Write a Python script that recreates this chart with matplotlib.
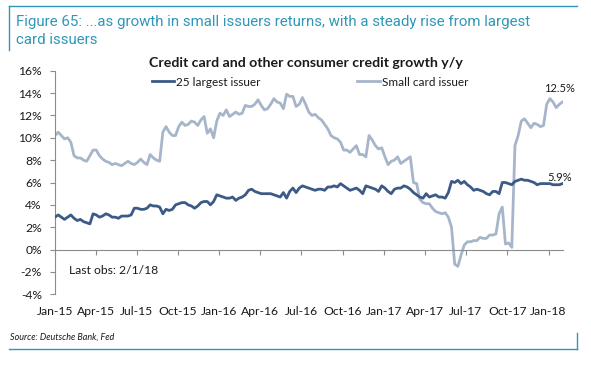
import numpy as np
import pandas as pd
import matplotlib
matplotlib.use('Agg')
import matplotlib.pyplot as plt
import matplotlib.transforms as mtransforms
from matplotlib.lines import Line2D

# weekly y/y growth, % (2015-01-01 .. 2018-02-01)
large_issuer = [
    2.9, 3.1, 2.9, 2.7, 2.9, 3.1, 2.8, 2.6, 2.7, 2.5, 2.4, 2.3, 3.2,
    3.1, 2.9, 3.0, 3.2, 3.1, 2.9, 2.9, 2.8, 3.0, 3.0, 3.0, 3.1, 3.7,
    3.7, 3.6, 3.6, 3.7, 4.0, 3.9, 3.9, 3.8, 3.2, 3.6, 3.5, 3.6, 4.0,
    4.1, 4.2, 4.2, 4.0, 3.9, 3.7, 3.9, 4.2, 4.3, 4.3, 4.0, 4.3, 4.9,
    4.8, 4.7, 4.6, 4.6, 4.7, 4.4, 4.6, 4.7, 4.9, 5.3, 5.4, 5.2, 5.1,
    5.0, 5.0, 5.0, 5.0, 4.9, 4.8, 4.7, 5.1, 4.6, 5.2, 5.5, 5.1, 5.5,
    5.7, 5.6, 5.5, 5.4, 5.3, 5.4, 5.4, 5.3, 5.6, 5.6, 5.7, 5.6, 5.9,
    5.7, 5.5, 5.3, 5.4, 5.5, 5.3, 5.0, 5.7, 5.6, 5.5, 5.4, 5.2, 5.7,
    5.5, 5.2, 5.0, 5.4, 5.5, 5.5, 5.7, 5.6, 5.4, 5.1, 4.9, 4.7, 4.6,
    5.0, 4.7, 4.8, 4.9, 4.7, 4.7, 4.6, 5.1, 6.1, 6.0, 6.2, 5.9, 6.1,
    5.8, 5.6, 5.3, 5.4, 5.3, 5.2, 5.0, 4.9, 5.2, 5.2, 5.0, 6.0, 6.0,
    5.9, 5.8, 6.1, 6.2, 6.3, 6.2, 6.2, 6.1, 6.0, 5.8, 5.9, 5.9, 5.9,
    5.9, 5.8, 5.8, 5.8, 5.9,
]
small_issuer = [
    10.2, 10.5, 10.2, 9.9, 10.0, 9.6, 8.4, 8.2, 8.2, 8.0, 7.9, 8.4, 8.9,
    8.9, 8.4, 8.1, 7.9, 7.8, 7.6, 7.7, 7.6, 7.5, 7.7, 7.9, 7.7, 7.6,
    7.8, 8.1, 7.8, 7.6, 8.5, 8.2, 8.0, 7.9, 10.5, 11.0, 10.5, 10.2, 10.2,
    11.0, 11.4, 11.1, 11.2, 11.5, 11.4, 11.1, 11.6, 11.9, 10.4, 10.8, 10.0, 11.5,
    12.2, 12.0, 12.5, 11.9, 12.1, 12.3, 12.1, 12.2, 12.9, 12.8, 12.8, 13.0, 13.4,
    12.9, 12.5, 12.6, 13.0, 13.5, 13.2, 13.1, 12.6, 13.9, 13.7, 13.7, 12.8, 13.0,
    13.6, 13.0, 12.3, 12.0, 12.1, 11.8, 11.6, 11.2, 10.8, 10.2, 10.0, 9.9, 9.6,
    8.9, 8.9, 8.7, 9.0, 9.3, 8.5, 8.5, 8.3, 10.2, 9.8, 9.3, 9.0, 9.1,
    8.3, 7.6, 7.9, 8.0, 8.3, 7.7, 7.9, 8.1, 8.3, 6.0, 5.9, 4.5, 4.2,
    4.1, 4.1, 3.7, 3.4, 3.3, 3.2, 3.3, 2.9, 2.0, -1.3, -1.5, -0.5, 0.4,
    0.7, 0.7, 0.8, 0.8, 1.1, 1.0, 1.0, 1.3, 1.3, 1.4, 3.2, 3.8, 0.5,
    0.6, 0.2, 9.3, 10.2, 11.5, 11.7, 11.3, 10.9, 11.3, 11.2, 11.0, 11.1, 13.0,
    13.5, 13.2, 12.7, 13.0, 13.2,
]
series_names = ['25 largest issuer', 'Small card issuer']
last_labels = ['5.9%', '12.5%']
start_date = '2015-01-01'
end_date = '2018-02-01'
y_ticks = list(range(-4, 17, 2))

dark = '#3c5a86'
light = '#a7b5cb'
teal = '#2f97b8'
axis_grey = '#8c8c8c'
txt = '#1a1a1a'

dates = pd.date_range(start_date, end_date, periods=len(large_issuer))
quarters = pd.date_range('2015-01-01', '2018-01-01', freq='QS')

fig = plt.figure(figsize=(5.91, 3.67), dpi=100)
ax = fig.add_axes([55 / 591, 1 - 294.3 / 367, 508 / 591, 223.6 / 367])

ax.plot(dates, large_issuer, color=dark, lw=2.0, label=series_names[0], zorder=3)
ax.plot(dates, small_issuer, color=light, lw=2.0, label=series_names[1], zorder=2)

ax.set_xlim(pd.Timestamp(start_date), pd.Timestamp(end_date) + pd.Timedelta(days=1))
ax.set_ylim(-4, 16)
ax.set_yticks(y_ticks)
ax.set_yticklabels(['{}%'.format(t) for t in y_ticks])

for s in ['top', 'right']:
    ax.spines[s].set_visible(False)
ax.spines['left'].set_color(axis_grey)
ax.spines['bottom'].set_color(axis_grey)
ax.spines['bottom'].set_position(('data', 0))
ax.set_xticks(quarters)
ax.tick_params(axis='x', labelbottom=False, direction='out', length=3.5,
               color=axis_grey, width=0.8)
ax.tick_params(axis='y', direction='out', length=3.5, color=axis_grey,
               width=0.8, pad=6, labelsize=8.7, labelcolor=txt)
for lab in ax.get_yticklabels():
    lab.set_family('Lato')

# quarter labels below the plot area
trans = mtransforms.blended_transform_factory(ax.transData, ax.transAxes)
for q in quarters:
    ax.text(q, -0.078, q.strftime('%b-%y'), transform=trans, ha='center',
            va='center', fontsize=8.7, family='Lato', color=txt)

# end-of-series labels
ax.annotate(last_labels[0], xy=(dates[-1], large_issuer[-1]), xytext=(-3, 6),
            textcoords='offset pixels', ha='center', va='center',
            fontsize=8, family='Lato', color=txt)
ax.annotate(last_labels[1], xy=(dates[-1], small_issuer[-1]), xytext=(-3, 14),
            textcoords='offset pixels', ha='center', va='center',
            fontsize=8, family='Lato', color=txt)

ax.text((69 - 55) / 508, (270 - 294.3) / -223.6, 'Last obs: 2/1/18',
        transform=ax.transAxes, ha='left', va='center', fontsize=8.7,
        family='Lato', color=txt)

leg = ax.legend(loc='center', bbox_to_anchor=(310 / 591, 1 - 82 / 367),
                bbox_transform=fig.transFigure, ncol=2, frameon=False,
                handlelength=1.9, handletextpad=0.15, columnspacing=8.2,
                prop={'family': 'Lato', 'size': 8.5})
for t in leg.get_texts():
    t.set_color(txt)

fig.text(306 / 591, 1 - 63 / 367, 'Credit card and other consumer credit growth y/y',
         ha='center', va='center', fontsize=10.2, fontweight='bold',
         family='Lato', color=txt)

# header and source frame
fig.text(15.5 / 591, 1 - 26 / 367,
         'Figure 65: ...as growth in small issuers returns, with a steady rise from largest',
         ha='left', va='baseline', fontsize=10.85, family='Roboto', color=teal)
fig.text(15.5 / 591, 1 - 44 / 367, 'card issuers',
         ha='left', va='baseline', fontsize=10.85, family='Roboto', color=teal)
fig.text(10 / 591, 1 - 337 / 367, 'Source: Deutsche Bank, Fed', ha='left',
         va='center', fontsize=6.5, style='italic', family='Lato', color=txt)

W, H = 591.0, 367.0
frame = [
    ([9, 577], [5.7, 5.7]),
    ([9, 9], [5.7, 50]),
    ([9, 577], [349.3, 349.3]),
    ([577, 577], [333, 349.3]),
]
for xs, ys in frame:
    fig.add_artist(Line2D([x / W for x in xs], [1 - y / H for y in ys],
                          color=teal, lw=1.0, transform=fig.transFigure))

fig.savefig('out.png', dpi=100)
